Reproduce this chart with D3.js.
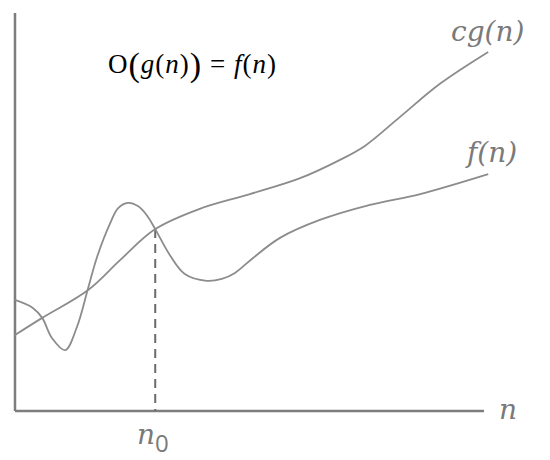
<!DOCTYPE html>
<html>
<head>
<meta charset="utf-8">
<script src="https://cdn.jsdelivr.net/npm/d3@7"></script>
<style>
  body { margin: 0; background: #fff; }
  svg { display: block; }
</style>
</head>
<body>
<svg width="550" height="460"></svg>
<script>
// curve samples (n on 0..100, value on 0..100)
var nG = [0, 5.8, 15.6, 22.4, 29.9, 39.4, 50.1, 60.8, 69.3, 74.6, 82.1, 90.6, 100.9];
var cg = [19.1, 23.4, 30.4, 37.9, 45.7, 50.8, 54.5, 58.5, 63.1, 66.6, 73.9, 82.2, 90.2];

var nF = [0, 3.8, 5.8, 7.9, 10.7, 13.2, 15.6, 17.5, 20.3, 22.0, 24.1, 26.2, 28.1, 29.9,
          33.0, 36.2, 40.9, 44.1, 46.9, 50.7, 56.5, 65.0, 75.7, 86.4, 100.9];
var fn = [27.9, 25.9, 23.4, 18.3, 15.3, 21.1, 30.9, 38.7, 47.2, 51.0, 52.3, 51.5, 49.2, 45.7,
          39.2, 34.4, 32.7, 33.2, 34.7, 38.4, 43.5, 48.0, 51.8, 54.5, 59.5];

var n0 = 29.9;   // where cg(n) and f(n) meet
var n0val = 45.7;

var svg = d3.select("svg");

var x = d3.scaleLinear().domain([0, 100]).range([15, 484]);
var y = d3.scaleLinear().domain([0, 100]).range([411, 13]);

var line = d3.line()
    .x(function(d) { return x(d[0]); })
    .y(function(d) { return y(d[1]); })
    .curve(d3.curveCatmullRom.alpha(0.5));

// axes (plain lines, no ticks)
svg.append("line")
    .attr("x1", x(0)).attr("y1", y(0))
    .attr("x2", x(0)).attr("y2", y(100))
    .attr("stroke", "#7d7d7d").attr("stroke-width", 2.5);
svg.append("line")
    .attr("x1", x(0)).attr("y1", y(0))
    .attr("x2", x(100)).attr("y2", y(0))
    .attr("stroke", "#7d7d7d").attr("stroke-width", 2.5);

// n0 dashed drop line
svg.append("line")
    .attr("x1", x(n0)).attr("y1", y(n0val))
    .attr("x2", x(n0)).attr("y2", y(0))
    .attr("stroke", "#6a6a6a").attr("stroke-width", 2)
    .attr("stroke-dasharray", "9,6");

svg.append("path")
    .datum(d3.zip(nG, cg))
    .attr("d", line)
    .attr("fill", "none")
    .attr("stroke", "#8c8c8c")
    .attr("stroke-width", 1.8);

svg.append("path")
    .datum(d3.zip(nF, fn))
    .attr("d", line)
    .attr("fill", "none")
    .attr("stroke", "#8c8c8c")
    .attr("stroke-width", 1.8);

// labels
function lbl(tx, ty, s) {
    return svg.append("text")
        .attr("x", tx).attr("y", ty)
        .attr("font-family", "'DejaVu Serif', serif")
        .attr("font-style", "italic")
        .attr("font-size", 28)
        .attr("fill", "#7a7a7a")
        .text(s);
}
lbl(451, 41, "cg(n)");
lbl(467, 162, "f(n)");
lbl(499, 419, "n");

var sub = lbl(137, 444, "");
sub.append("tspan").text("n");
sub.append("tspan").attr("dy", 8).attr("font-style", "normal")
    .attr("font-family", "'Open Sans', sans-serif").attr("font-size", 24).text("0");

// formula
var f = svg.append("text")
    .attr("x", 108).attr("y", 73)
    .attr("font-family", "'Liberation Serif', serif")
    .attr("font-size", 27)
    .attr("fill", "#000")
    .attr("letter-spacing", 1);
f.append("tspan").text("O");
f.append("tspan").attr("font-size", 34).attr("dy", 3).text("(");
f.append("tspan").attr("font-style", "italic").attr("dy", -3).text("g");
f.append("tspan").text("(");
f.append("tspan").attr("font-style", "italic").text("n");
f.append("tspan").text(")");
f.append("tspan").attr("font-size", 34).attr("dy", 3).text(")");
f.append("tspan").attr("dy", -3).text(" = ");
f.append("tspan").attr("font-style", "italic").text("f");
f.append("tspan").text("(");
f.append("tspan").attr("font-style", "italic").text("n");
f.append("tspan").text(")");
</script>
</body>
</html>
